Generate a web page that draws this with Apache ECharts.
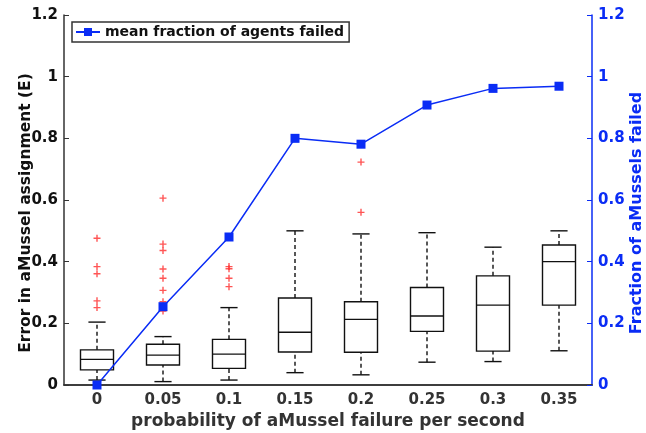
<!DOCTYPE html>
<html>
<head>
<meta charset="utf-8">
<script src="https://cdn.jsdelivr.net/npm/echarts@6/dist/echarts.min.js"></script>
<style>
  html, body { margin: 0; padding: 0; background: #fff; }
  #chart { width: 646px; height: 433px; }
</style>
</head>
<body>
<div id="chart"></div>
<script>
const categories = ["0", "0.05", "0.1", "0.15", "0.2", "0.25", "0.3", "0.35"];

// box plot stats (E)
const whiskerLow = [0.016, 0.011, 0.016, 0.040, 0.033, 0.074, 0.076, 0.111];
const q1 = [0.049, 0.065, 0.054, 0.107, 0.106, 0.174, 0.110, 0.259];
const median = [0.083, 0.097, 0.100, 0.171, 0.213, 0.224, 0.259, 0.400];
const q3 = [0.114, 0.132, 0.148, 0.282, 0.270, 0.316, 0.354, 0.454];
const whiskerHigh = [0.204, 0.157, 0.251, 0.500, 0.490, 0.494, 0.447, 0.500];

// outliers per category
const outliers = [
  [0.476, 0.384, 0.361, 0.273, 0.251],
  [0.606, 0.457, 0.436, 0.376, 0.346, 0.307, 0.270, 0.240],
  [0.384, 0.377, 0.346, 0.319],
  [],
  [0.723, 0.560],
  [],
  [],
  []
];

// mean fraction of agents failed (right axis)
const meanFailed = [0, 0.254, 0.48, 0.8, 0.781, 0.908, 0.962, 0.969];

const blue = "#0a2cf5";
const font = "DejaVu Sans";

const boxData = categories.map((c, i) => [i, whiskerLow[i], q1[i], median[i], q3[i], whiskerHigh[i]]);
const outlierData = [];
outliers.forEach((list, i) => list.forEach((v) => outlierData.push([i, v])));

const renderBox = (params, api) => {
  const x = api.value(0);
  const band = api.size([1, 0])[0];
  const half = band * 0.25;
  const capHalf = band * 0.13;
  const pLow = api.coord([x, api.value(1)]);
  const pQ1 = api.coord([x, api.value(2)]);
  const pMed = api.coord([x, api.value(3)]);
  const pQ3 = api.coord([x, api.value(4)]);
  const pHigh = api.coord([x, api.value(5)]);
  const cx = pQ1[0];
  const solid = { stroke: "#111", lineWidth: 1.4, fill: null };
  const dashed = { stroke: "#111", lineWidth: 1.4, lineDash: [4, 3], fill: null };
  return {
    type: "group",
    children: [
      { type: "line", shape: { x1: cx, y1: pQ3[1], x2: cx, y2: pHigh[1] }, style: dashed },
      { type: "line", shape: { x1: cx, y1: pLow[1], x2: cx, y2: pQ1[1] }, style: dashed },
      { type: "line", shape: { x1: cx - capHalf, y1: pHigh[1], x2: cx + capHalf, y2: pHigh[1] }, style: solid },
      { type: "line", shape: { x1: cx - capHalf, y1: pLow[1], x2: cx + capHalf, y2: pLow[1] }, style: solid },
      { type: "rect", shape: { x: cx - half, y: pQ3[1], width: half * 2, height: pQ1[1] - pQ3[1] }, style: solid },
      { type: "line", shape: { x1: cx - half, y1: pMed[1], x2: cx + half, y2: pMed[1] }, style: solid }
    ]
  };
};

const myChart = echarts.init(document.getElementById("chart"));
const option = {
  animation: false,
  textStyle: { fontFamily: font },
  grid: { left: 64, right: 54, top: 15, bottom: 48, containLabel: false, outerBoundsMode: "none" },
  legend: {
    left: 72,
    top: 22,
    padding: [3, 5, 3, 3],
    itemWidth: 24,
    itemHeight: 10,
    itemGap: 4,
    borderColor: "#333",
    borderWidth: 1.5,
    borderRadius: 0,
    textStyle: { fontFamily: font, fontWeight: "bold", fontSize: 14, color: "#111" },
    data: ["mean fraction of agents failed"]
  },
  xAxis: [
    {
      type: "category",
      data: categories,
      position: "bottom",
      name: "probability of aMussel failure per second",
      nameLocation: "middle",
      nameGap: 28,
      nameMoveOverlap: false,
      nameTextStyle: { fontFamily: font, fontWeight: "bold", fontSize: 17, color: "#333" },
      axisLine: { lineStyle: { color: "#333", width: 1.5 } },
      axisTick: { inside: true, alignWithLabel: true, length: 5, lineStyle: { color: "#333" } },
      axisLabel: { fontFamily: font, fontWeight: "bold", fontSize: 15, color: "#333", margin: 8 }
    },
    {
      type: "category",
      data: categories,
      position: "top",
      axisLine: { lineStyle: { color: "#333", width: 1.5 } },
      axisTick: { inside: true, alignWithLabel: true, length: 5, lineStyle: { color: "#333" } },
      axisLabel: { show: false }
    }
  ],
  yAxis: [
    {
      type: "value",
      min: 0,
      max: 1.2,
      interval: 0.2,
      position: "left",
      name: "Error in aMussel assignment (E)",
      nameLocation: "middle",
      nameGap: 30,
      nameMoveOverlap: false,
      nameTextStyle: { fontFamily: font, fontWeight: "bold", fontSize: 15.5, color: "#111", padding: [0, 26, 0, 0] },
      axisLine: { show: true, lineStyle: { color: "#333", width: 1.5 } },
      axisTick: { show: true, inside: true, length: 5, lineStyle: { color: "#333" } },
      axisLabel: { fontFamily: font, fontWeight: "bold", fontSize: 15, color: "#111", margin: 6 },
      splitLine: { show: false }
    },
    {
      type: "value",
      min: 0,
      max: 1.2,
      interval: 0.2,
      position: "right",
      name: "Fraction of aMussels failed",
      nameLocation: "middle",
      nameGap: 37,
      nameMoveOverlap: false,
      nameTextStyle: { fontFamily: font, fontWeight: "bold", fontSize: 16, color: blue, padding: [0, 26, 0, 0] },
      axisLine: { show: true, lineStyle: { color: blue, width: 1.5 } },
      axisTick: { show: true, inside: true, length: 5, lineStyle: { color: blue } },
      axisLabel: { fontFamily: font, fontWeight: "bold", fontSize: 15, color: blue, margin: 6 },
      splitLine: { show: false }
    }
  ],
  series: [
    {
      name: "box",
      type: "custom",
      renderItem: renderBox,
      encode: { x: 0, y: [1, 2, 3, 4, 5] },
      data: boxData,
      z: 2
    },
    {
      name: "outliers",
      type: "scatter",
      symbol: "path://M4,0 L6,0 L6,4 L10,4 L10,6 L6,6 L6,10 L4,10 L4,6 L0,6 L0,4 L4,4 Z",
      symbolSize: 7,
      itemStyle: { color: "#ff2a2a" },
      data: outlierData,
      z: 3
    },
    {
      name: "mean fraction of agents failed",
      type: "line",
      yAxisIndex: 1,
      symbol: "rect",
      symbolSize: 9,
      showAllSymbol: true,
      lineStyle: { color: blue, width: 1.5 },
      itemStyle: { color: blue },
      data: meanFailed,
      z: 4
    }
  ]
};
myChart.setOption(option);
</script>
</body>
</html>
